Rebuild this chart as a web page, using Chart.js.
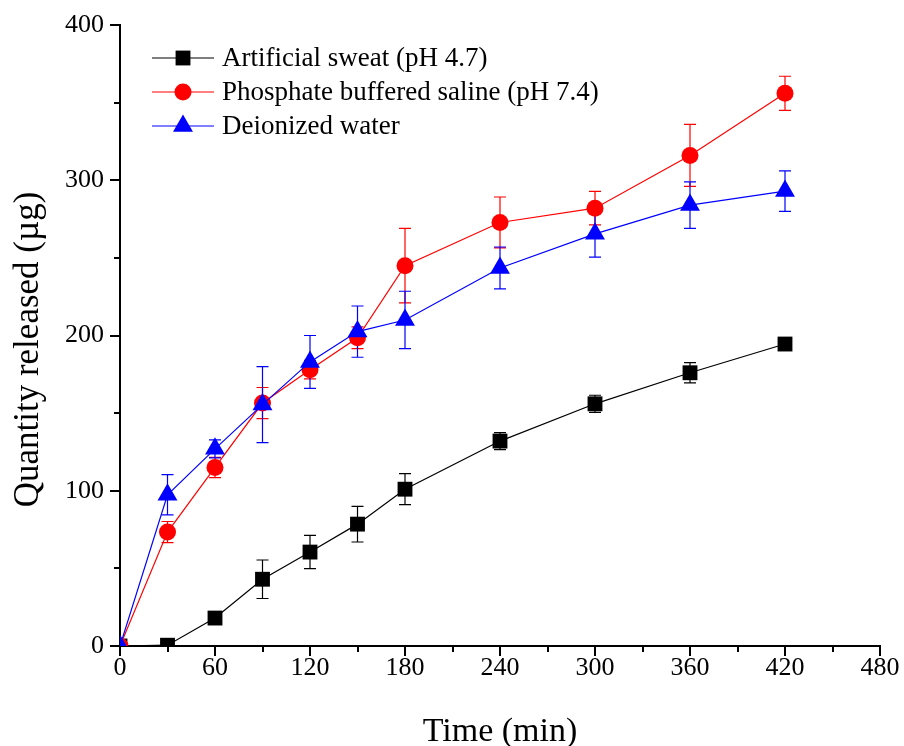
<!DOCTYPE html>
<html>
<head>
<meta charset="utf-8">
<style>
  html, body { margin: 0; padding: 0; background: #fff; }
  #wrap { width: 904px; height: 746px; }
</style>
<script src="https://cdn.jsdelivr.net/npm/chart.js@4.4.0/dist/chart.umd.min.js"></script>
</head>
<body>
<div id="wrap"><canvas id="chart" width="904" height="746"></canvas></div>
<script>
// time points (min)
const times = [0, 30, 60, 90, 120, 150, 180, 240, 300, 360, 420];

// quantity released (µg)
const sweat    = [0, 0.5, 18, 43, 60.5, 78.5, 101, 132, 156, 176, 194.5];
const sweatErr = [0, 0, 2, 12.4, 10.7, 11.5, 10, 5.5, 5.5, 6.5, 2];

const pbs      = [0, 73.4, 115, 156.5, 178, 198.5, 245, 272.8, 282, 316, 356];
const pbsErr   = [0, 6.8, 6.5, 10, 6, 7, 24, 16.4, 10.8, 20, 11];

const water    = [0, 97.4, 127, 155.5, 183, 202.5, 210, 243.5, 265.5, 284, 293];
const waterErr = [0, 13, 5.8, 24.5, 17, 16.5, 18.5, 13.5, 15, 15, 13];

const xTicks = [0, 60, 120, 180, 240, 300, 360, 420, 480];
const yTicks = [0, 100, 200, 300, 400];

const labels = ['Artificial sweat (pH 4.7)', 'Phosphate buffered saline (pH 7.4)', 'Deionized water'];
const yTitle = 'Quantity released (µg)';

const FONT = "'Liberation Serif', 'Times New Roman', serif";

function toXY(ys) {
  return times.map((t, i) => ({ x: t, y: ys[i] }));
}

// error bars, drawn under the markers
const errorBars = {
  id: 'errorBars',
  beforeDatasetsDraw(chart) {
    const ctx = chart.ctx;
    const xs = chart.scales.x, ys = chart.scales.y;
    chart.data.datasets.forEach(ds => {
      ctx.save();
      ctx.strokeStyle = ds.borderColor;
      ctx.lineWidth = 1.2;
      ds.data.forEach((p, i) => {
        const e = ds.errors[i];
        if (!e) return;
        const px = xs.getPixelForValue(p.x);
        const top = ys.getPixelForValue(p.y + e);
        const bot = ys.getPixelForValue(p.y - e);
        ctx.beginPath();
        ctx.moveTo(px, top); ctx.lineTo(px, bot);
        ctx.moveTo(px - 6, top); ctx.lineTo(px + 6, top);
        ctx.moveTo(px - 6, bot); ctx.lineTo(px + 6, bot);
        ctx.stroke();
      });
      ctx.restore();
    });
  }
};

// major + minor outward tick marks, plus the y title
const tickMarks = {
  id: 'tickMarks',
  afterDraw(chart) {
    const ctx = chart.ctx;
    const xs = chart.scales.x, ys = chart.scales.y;
    const area = chart.chartArea;
    ctx.save();
    ctx.strokeStyle = '#000';
    ctx.lineWidth = 2;
    xs.ticks.forEach(t => {
      const px = Math.round(xs.getPixelForValue(t.value));
      const len = t.value % 60 === 0 ? 10 : 6;
      ctx.beginPath();
      ctx.moveTo(px, area.bottom); ctx.lineTo(px, area.bottom + len);
      ctx.stroke();
    });
    ys.ticks.forEach(t => {
      const py = Math.round(ys.getPixelForValue(t.value));
      const len = t.value % 100 === 0 ? 10 : 6;
      ctx.beginPath();
      ctx.moveTo(area.left, py); ctx.lineTo(area.left - len, py);
      ctx.stroke();
    });
    // y title
    ctx.translate(29, (area.top + area.bottom) / 2 + 14);
    ctx.rotate(-Math.PI / 2);
    ctx.fillStyle = '#000';
    ctx.font = '35px ' + FONT;
    ctx.textAlign = 'center';
    ctx.textBaseline = 'middle';
    ctx.fillText(yTitle, 0, 0);
    ctx.restore();
  }
};

// legend with line through marker
const lineLegend = {
  id: 'lineLegend',
  afterDraw(chart) {
    const ctx = chart.ctx;
    const x0 = 152, x1 = 214, tx = 222;
    const rows = [58, 92, 126];
    ctx.save();
    chart.data.datasets.slice().sort((a, b) => a.legendIndex - b.legendIndex).forEach((ds, i) => {
      const y = rows[i];
      ctx.strokeStyle = ds.borderColor;
      ctx.lineWidth = 1.2;
      ctx.beginPath();
      ctx.moveTo(x0, y); ctx.lineTo(x1, y);
      ctx.stroke();
      ctx.fillStyle = ds.pointBackgroundColor;
      ctx.strokeStyle = ds.pointBackgroundColor;
      Chart.helpers.drawPoint(ctx, {
        pointStyle: ds.pointStyle, radius: ds.pointRadius, borderWidth: 0, rotation: 0
      }, (x0 + x1) / 2, y);
      ctx.fillStyle = '#000';
      ctx.font = '27px ' + FONT;
      ctx.textBaseline = 'middle';
      ctx.textAlign = 'left';
      ctx.fillText(labels[ds.legendIndex], tx, y + 1);
    });
    ctx.restore();
  }
};

function series(data, errs, color, style, radius, order, legendIndex) {
  return {
    data: toXY(data),
    errors: errs,
    borderColor: color,
    backgroundColor: color,
    pointBackgroundColor: color,
    pointBorderColor: color,
    pointBorderWidth: 0,
    pointStyle: style,
    pointRadius: radius,
    pointHoverRadius: radius,
    borderWidth: 1.2,
    tension: 0,
    clip: 0,
    order: order,
    legendIndex: legendIndex
  };
}

const ctx = document.getElementById('chart').getContext('2d');
const chart = new Chart(ctx, {
  type: 'line',
  data: {
    datasets: [
      series(sweat, sweatErr, '#000000', 'rect', 10.5, 3, 0),
      series(pbs, pbsErr, '#ff0000', 'circle', 8.5, 2, 1),
      series(water, waterErr, '#0000ff', 'triangle', 11.5, 1, 2)
    ]
  },
  options: {
    responsive: false,
    animation: false,
    layout: { padding: { top: 25, right: 24, left: 0, bottom: 0 } },
    plugins: { legend: { display: false }, tooltip: { enabled: false } },
    scales: {
      x: {
        type: 'linear',
        min: 0, max: 480,
        afterFit(s) { s.height = 100; },
        afterBuildTicks(s) {
          const t = [];
          for (let v = 0; v <= 480; v += 30) t.push({ value: v });
          s.ticks = t;
        },
        ticks: {
          autoSkip: false,
          maxRotation: 0,
          padding: 1,
          color: '#000',
          font: { family: FONT, size: 26 },
          callback: v => xTicks.includes(v) ? String(v) : ''
        },
        grid: { drawOnChartArea: false, drawTicks: true, tickLength: 6, tickColor: 'rgba(0,0,0,0)' },
        border: { display: true, color: '#000', width: 2 },
        title: {
          display: true, text: 'Time (min)', color: '#000',
          font: { family: FONT, size: 34, lineHeight: 0.8 },
          padding: { top: 0, bottom: 0 }
        }
      },
      y: {
        type: 'linear',
        min: 0, max: 400,
        afterFit(s) { s.width = 120; },
        afterBuildTicks(s) {
          const t = [];
          for (let v = 0; v <= 400; v += 50) t.push({ value: v });
          s.ticks = t;
        },
        ticks: {
          autoSkip: false,
          padding: 6,
          color: '#000',
          font: { family: FONT, size: 26 },
          callback: v => yTicks.includes(v) ? String(v) : ''
        },
        grid: { drawOnChartArea: false, drawTicks: true, tickLength: 10, tickColor: 'rgba(0,0,0,0)' },
        border: { display: true, color: '#000', width: 2 },
        title: { display: false }
      }
    }
  },
  plugins: [errorBars, tickMarks, lineLegend]
});
</script>
</body>
</html>
